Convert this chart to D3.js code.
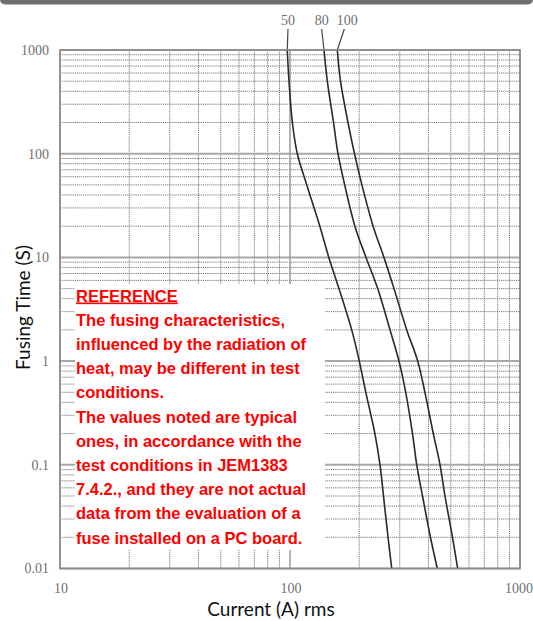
<!DOCTYPE html>
<html>
<head>
<meta charset="utf-8">
<script src="https://cdn.jsdelivr.net/npm/d3@7"></script>
<style>
  body { margin: 0; background: #fff; }
  svg { display: block; }
</style>
</head>
<body>
<div id="chart"></div>
<script>
// fusing time (s) at which each curve was read
const times = [1000, 500, 200, 100, 50, 20, 10, 5, 2, 1, 0.5, 0.2, 0.1, 0.05, 0.02, 0.01];
// current (A rms) for each rating at those times
const current50 = [97.3, 99.0, 102.4, 107.6, 118.3, 134.8, 147.5, 163.3, 185.5, 200.1, 213.6, 233.9, 246.2, 255.0, 266.8, 276.9];
const current80 = [140.5, 145.3, 154.6, 161.7, 172.9, 191.5, 214, 240.6, 272.2, 297.8, 318.5, 340.9, 355.6, 376.8, 408, 437];
const current100 = [160.6, 165.8, 178.7, 190.7, 205.4, 229.8, 256.2, 283.3, 321.7, 359.2, 386, 419.8, 449, 472, 508.7, 535.9];
const ratings = ["50", "80", "100"];

const xTicks = [10, 100, 1000];
const yTicks = [1000, 100, 10, 1, 0.1, 0.01];
const yTickLabels = ["1000", "100", "10", "1", "0.1", "0.01"];

const noteLines = [
  "REFERENCE",
  "The fusing characteristics,",
  "influenced by the radiation of",
  "heat, may be different in test",
  "conditions.",
  "The values noted are typical",
  "ones, in accordance with the",
  "test conditions in JEM1383",
  "7.4.2., and they are not actual",
  "data from the evaluation of a",
  "fuse installed on a PC board."
];

const width = 533, height = 621;
const margin = {top: 50, right: 13, bottom: 52.5, left: 60};

const svg = d3.select("#chart").append("svg")
  .attr("width", width)
  .attr("height", height);

// dark strip across the top
svg.append("rect")
  .attr("x", 0).attr("y", -6)
  .attr("width", width).attr("height", 10.5)
  .attr("rx", 5)
  .attr("fill", "#6f6f6f");

const x = d3.scaleLog()
  .domain([10, 1000])
  .range([margin.left, width - margin.right]);

const y = d3.scaleLog()
  .domain([0.01, 1000])
  .range([height - margin.bottom, margin.top]);

// minor values for the log grid
const minorX = [];
[10, 100].forEach(d => { for (let k = 2; k <= 9; k++) minorX.push(d * k); });
const minorY = [];
[0.01, 0.1, 1, 10, 100].forEach(d => { for (let k = 2; k <= 9; k++) minorY.push(d * k); });

const grid = svg.append("g");

grid.selectAll(".minor-h")
  .data(minorY)
  .join("line")
  .attr("x1", x(10)).attr("x2", x(1000))
  .attr("y1", d => y(d)).attr("y2", d => y(d))
  .attr("stroke", "#6a6a6a")
  .attr("stroke-width", 0.9)
  .attr("stroke-dasharray", "1.2,0.9");

grid.selectAll(".minor-v")
  .data(minorX)
  .join("line")
  .attr("x1", d => x(d)).attr("x2", d => x(d))
  .attr("y1", y(1000)).attr("y2", y(0.01))
  .attr("stroke", "#6a6a6a")
  .attr("stroke-width", 0.9)
  .attr("stroke-dasharray", "1.2,0.9");

grid.selectAll(".major-h")
  .data(yTicks)
  .join("line")
  .attr("x1", x(10)).attr("x2", x(1000))
  .attr("y1", d => y(d)).attr("y2", d => y(d))
  .attr("stroke", "#a8a8a8")
  .attr("stroke-width", 2);

grid.selectAll(".major-v")
  .data(xTicks)
  .join("line")
  .attr("x1", d => x(d)).attr("x2", d => x(d))
  .attr("y1", y(1000)).attr("y2", y(0.01))
  .attr("stroke", "#9a9a9a")
  .attr("stroke-width", 1.5);

// white note box over the lower left of the grid
svg.append("rect")
  .attr("x", 75).attr("y", 284)
  .attr("width", 250).attr("height", 266)
  .attr("fill", "#fff");

const note = svg.append("text")
  .attr("font-family", "'Liberation Sans Narrow', 'Liberation Sans', sans-serif")
  .attr("font-weight", "bold")
  .attr("font-size", 16.5)
  .attr("fill", "#ff0000");

note.selectAll("tspan")
  .data(noteLines)
  .join("tspan")
  .attr("x", 76)
  .attr("y", (d, i) => 301.5 + i * 24.2)
  .attr("text-decoration", (d, i) => i === 0 ? "underline" : null)
  .text(d => d);

// curves
const series = [current50, current80, current100].map((vals, i) => ({
  name: ratings[i],
  points: vals.map((c, j) => [c, times[j]])
}));

const line = d3.line()
  .x(d => x(d[0]))
  .y(d => y(d[1]))
  .curve(d3.curveCatmullRom);

svg.append("g")
  .selectAll("path")
  .data(series)
  .join("path")
  .attr("fill", "none")
  .attr("stroke", "#2a2a2a")
  .attr("stroke-width", 1.6)
  .attr("d", d => line(d.points));

// rating labels with leader lines
const labelDx = [0.7, -2.3, 10];
const labelY = 20.5;
const leaders = svg.append("g");
series.forEach((s, i) => {
  const cx = x(s.points[0][0]);
  leaders.append("line")
    .attr("x1", cx + labelDx[i] - (i === 2 ? 3 : 0)).attr("y1", 29)
    .attr("x2", cx).attr("y2", y(1000))
    .attr("stroke", "#444")
    .attr("stroke-width", 1.2);
  leaders.append("text")
    .attr("x", cx + labelDx[i])
    .attr("y", labelY)
    .attr("dy", "0.35em")
    .attr("text-anchor", "middle")
    .attr("font-family", "'Liberation Serif', serif")
    .attr("font-size", 14)
    .attr("fill", "#6f6f6f")
    .text(s.name);
});

// frame
svg.append("rect")
  .attr("x", x(10)).attr("y", y(1000))
  .attr("width", x(1000) - x(10))
  .attr("height", y(0.01) - y(1000))
  .attr("fill", "none")
  .attr("stroke", "#8a8a8a")
  .attr("stroke-width", 1.6);

// tick labels
svg.append("g")
  .selectAll("text")
  .data(yTicks)
  .join("text")
  .attr("x", 49)
  .attr("y", d => y(d))
  .attr("dy", "0.35em")
  .attr("text-anchor", "end")
  .attr("font-family", "'Liberation Serif', serif")
  .attr("font-size", 14)
  .attr("fill", "#6f6f6f")
  .text((d, i) => yTickLabels[i]);

svg.append("g")
  .selectAll("text")
  .data(xTicks)
  .join("text")
  .attr("x", d => Math.min(x(d) + 1, 519))
  .attr("y", 593)
  .attr("text-anchor", "middle")
  .attr("font-family", "'Liberation Serif', serif")
  .attr("font-size", 14)
  .attr("fill", "#6f6f6f")
  .text(d => d);

// axis titles
svg.append("text")
  .attr("x", 271)
  .attr("y", 615.5)
  .attr("text-anchor", "middle")
  .attr("font-family", "Lato, sans-serif")
  .attr("font-size", 19)
  .attr("fill", "#111")
  .text("Current (A) rms");

svg.append("text")
  .attr("transform", "translate(30,307.5) rotate(-90)")
  .attr("text-anchor", "middle")
  .attr("font-family", "Lato, sans-serif")
  .attr("font-size", 19)
  .attr("fill", "#111")
  .text("Fusing Time (S)");
</script>
</body>
</html>
